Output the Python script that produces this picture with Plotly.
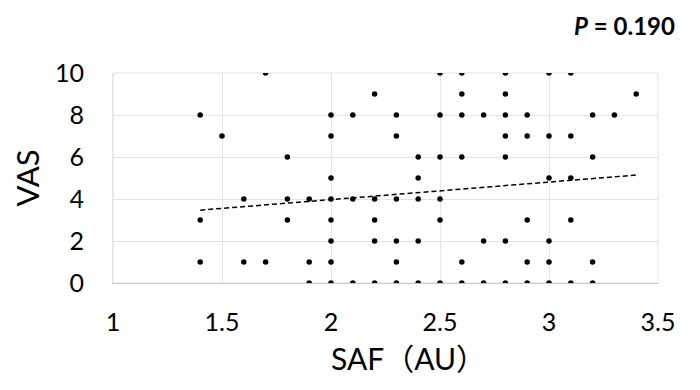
import plotly.graph_objects as go

# SAF (AU) and VAS values
saf = [1.4, 1.4, 1.4, 1.5, 1.6, 1.6, 1.7, 1.7, 1.8, 1.8, 1.8,
       1.9, 1.9, 1.9,
       2.0, 2.0, 2.0, 2.0, 2.0, 2.0, 2.0, 2.0,
       2.1, 2.1, 2.1,
       2.2, 2.2, 2.2, 2.2, 2.2,
       2.3, 2.3, 2.3, 2.3, 2.3, 2.3,
       2.4, 2.4, 2.4, 2.4, 2.4,
       2.5, 2.5, 2.5, 2.5, 2.5, 2.5,
       2.6, 2.6, 2.6, 2.6, 2.6, 2.6,
       2.7, 2.7, 2.7,
       2.8, 2.8, 2.8, 2.8, 2.8, 2.8, 2.8,
       2.9, 2.9, 2.9, 2.9, 2.9,
       3.0, 3.0, 3.0, 3.0, 3.0, 3.0,
       3.1, 3.1, 3.1, 3.1, 3.1,
       3.2, 3.2, 3.2, 3.2,
       3.3, 3.4]
vas = [8, 3, 1, 7, 4, 1, 10, 1, 6, 4, 3,
       4, 1, 0,
       8, 7, 5, 4, 3, 2, 1, 0,
       8, 4, 0,
       9, 4, 3, 2, 0,
       8, 7, 4, 2, 1, 0,
       6, 5, 4, 2, 0,
       10, 8, 6, 4, 3, 0,
       10, 9, 8, 6, 1, 0,
       8, 2, 0,
       10, 9, 8, 7, 6, 2, 0,
       8, 7, 3, 1, 0,
       10, 7, 5, 2, 1, 0,
       10, 7, 5, 3, 0,
       8, 6, 1, 0,
       8, 9]

# Linear trend line end points
trend_x = [1.4, 3.4]
trend_y = [3.47, 5.14]

x_ticks = [1, 1.5, 2, 2.5, 3, 3.5]
x_tick_text = ["1", "1.5", "2", "2.5", "3", "3.5"]
y_ticks = [0, 2, 4, 6, 8, 10]

p_text = "<b><i>P</i> = 0.190</b>"
x_title = "SAF（AU）"
y_title = "VAS"

FONT = "Lato, 'Noto Sans CJK JP', sans-serif"
GRID = "#e3e3e3"

fig = go.Figure()
fig.add_trace(go.Scatter(
    x=trend_x, y=trend_y, mode="lines",
    line=dict(color="black", width=1.5, dash="5px,3px"),
    hoverinfo="skip", showlegend=False))
fig.add_trace(go.Scatter(
    x=saf, y=vas, mode="markers",
    marker=dict(color="black", size=5.5),
    showlegend=False))

fig.update_layout(
    width=700, height=390,
    margin=dict(l=105, r=50, t=65, b=115),
    paper_bgcolor="white", plot_bgcolor="white",
    font=dict(family=FONT, color="black"),
    xaxis=dict(range=[1, 3.5], tickvals=x_ticks, ticktext=x_tick_text,
               showgrid=True, gridcolor=GRID, gridwidth=1,
               zeroline=False, showline=True, linecolor="#c8c8c8",
               linewidth=1, mirror=False,
               tickfont=dict(size=25, family=FONT), ticks="",
               ticklabelstandoff=17),
    yaxis=dict(range=[0, 10], tickvals=y_ticks,
               showgrid=True, gridcolor=GRID, gridwidth=1,
               zeroline=False, showline=True, linecolor=GRID,
               tickfont=dict(size=25, family=FONT), ticks="",
               ticklabelstandoff=23,
               title=dict(text=y_title, font=dict(size=31, family=FONT),
                          standoff=7)),
    showlegend=False,
)

fig.add_annotation(xref="paper", yref="paper", x=0.542, y=-0.357,
                   xanchor="center", yanchor="middle",
                   text=x_title, showarrow=False,
                   font=dict(size=30, family=FONT))
fig.add_annotation(xref="paper", yref="paper", x=1.035, y=1.305,
                   xanchor="right", yanchor="top",
                   text=p_text, showarrow=False,
                   font=dict(size=24, family=FONT))
# gridlines at plot edges
fig.add_shape(type="rect", xref="paper", yref="paper", x0=0, y0=0, x1=1, y1=1,
              line=dict(color=GRID, width=1), layer="below")

fig.write_html("out.html")
